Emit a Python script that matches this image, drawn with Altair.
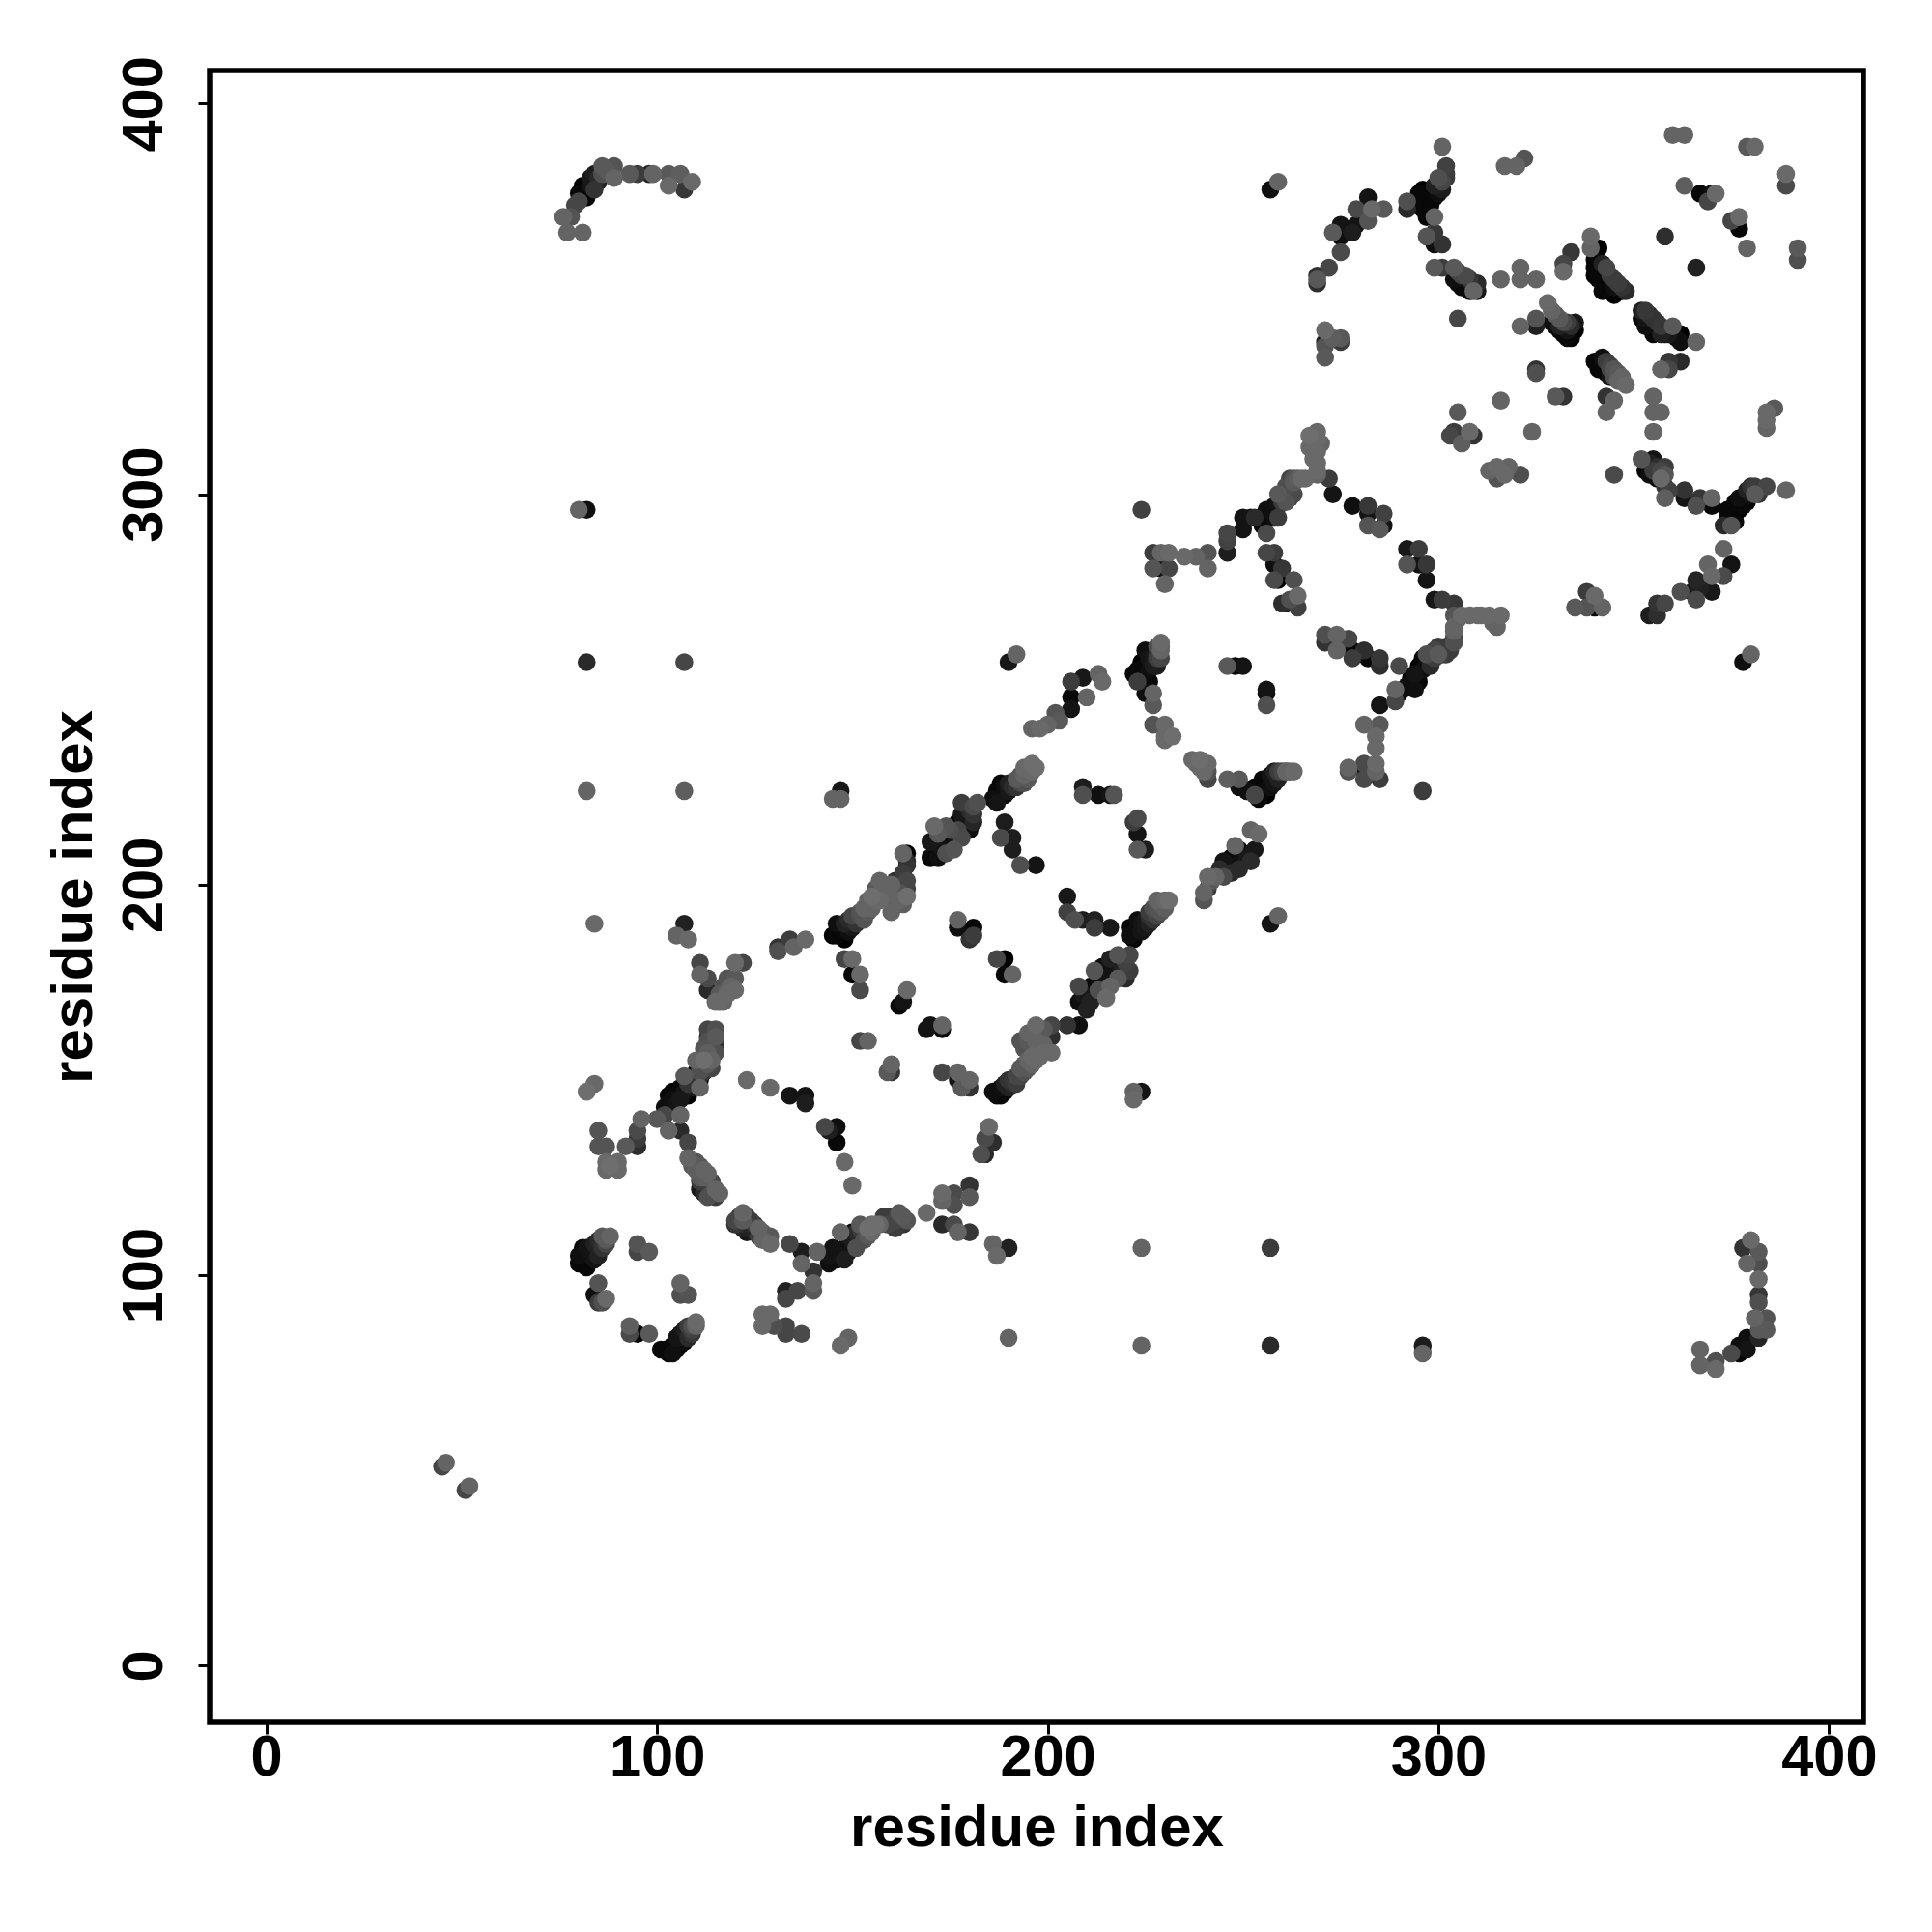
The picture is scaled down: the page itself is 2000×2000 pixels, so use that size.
import altair as alt
import pandas as pd

# each entry: residue x, residue y, grey level (0 black .. 112 mid grey)
top_left = [(76,371,100),(78,371,85),(77,367,100),(81,367,100),(80,375,70),(80,377,5),(81,379,0),(83,379,15),(84,382,25),(86,384,90),(86,382,80),(84,378,50),(89,384,85),(89,381,100),(93,382,90),(95,382,60),(98,382,30),(99,382,100),(103,382,90),(103,379,105),(106,382,95),(107,378,55),(109,380,105)]
isolated = [(45,51,70),(46,52,100),(51,45,70),(52,46,100),(80,296,100),(82,296,10),(82,257,40),(107,257,70),(82,224,100),(107,224,95),(190,257,20),(192,259,100),(224,107,100),(257,107,60),(224,82,100),(257,82,40),(296,82,25),(296,80,100),(257,378,10),(259,380,100),(257,190,15),(259,192,100),(296,224,60),(224,296,65),(378,257,10),(380,259,100),(84,190,105),(107,190,30),(105,187,100),(108,186,105),(190,84,100),(345,305,75),(305,345,70),(316,324,100),(324,316,100),(147,82,105),(149,84,100),(222,147,100),(222,145,105),(224,147,15),(147,224,20),(147,222,100),(145,222,100)]
left_wing = [(82,147,110),(84,149,105),(85,137,85),(85,133,85),(87,133,85),(87,129,105),(90,129,105),(87,127,105),(90,127,105),(88,128,110),(92,133,90),(95,133,45),(95,137,75),(95,135,60),(96,140,100),(100,140,90),(102,141,70),(106,141,100),(103,137,100),(106,137,40),(108,134,70),(108,130,100),(110,129,85),(112,127,100),(111,125,90),(114,124,70),(111,122,20),(112,121,40),(113,120,80),(115,122,100)]
left_diag = [(103,144,10),(104,147,0),(106,145,20),(107,151,90),(109,150,20),(111,150,5),(111,148,100),(108,149,50),(112,152,50),(110,155,100),(112,155,110),(111,152,80),(113,163,70),(115,163,80),(113,160,80),(115,159,50),(113,161,50),(115,161,90),(111,180,70),(111,177,100),(113,176,75),(113,173,40),(115,170,105),(116,172,90),(118,172,105),(120,173,105),(118,176,85),(120,176,90),(120,180,105),(122,180,70),(131,184,50),(131,183,80),(134,186,60),(135,184,100),(138,186,105)]
inner_arc_a = [(123,150,105),(129,148,105),(134,146,15),(138,146,15),(138,144,25),(144,137,25),(146,138,10),(143,138,70),(146,134,5),(148,129,105),(150,123,105)]
lower_ring = [(120,114,70),(122,116,100),(120,113,50),(122,112,30),(124,114,60),(126,112,100),(129,110,90),(123,111,20),(129,108,105),(134,108,70),(137,106,25),(137,103,100),(141,106,100),(140,101,50),(140,98,100),(140,96,90),(136,96,70),(133,96,30),(133,94,70),(144,103,10),(144,105,15),(145,107,15),(147,105,15),(150,109,25),(150,111,10),(147,111,100),(152,113,90),(151,107,80),(154,112,110),(155,111,105),(159,115,60),(159,113,70),(163,115,90),(163,113,50),(161,114,70),(169,116,105),(173,121,105),(173,119,100),(176,121,75),(176,118,80),(180,123,50),(180,120,90),(173,113,40),(176,113,75),(177,111,100),(180,111,55),(186,108,100),(187,105,105),(190,107,30),(160,154,100),(160,152,55),(159,152,90),(185,138,105),(184,135,75),(186,134,45),(184,131,40),(183,131,80)]
bottom_left = [(88,110,100),(86,110,90),(84,108,30),(85,107,25),(81,107,5),(80,105,10),(81,103,5),(83,105,10),(95,108,85),(95,106,70),(98,106,90),(85,98,85),(84,95,10),(85,93,60),(87,94,105),(86,93,80),(106,98,100),(106,95,80),(108,95,85),(93,87,95),(93,85,75),(95,85,5),(98,85,90),(102,81,5),(104,80,10),(106,82,5),(106,85,15),(108,84,40),(108,87,60),(109,87,80),(110,88,105),(101,81,5),(127,90,105),(129,90,105),(127,87,105),(130,87,80),(133,87,70),(133,85,70),(137,85,75)]
centre_low = [(187,146,5),(186,147,10),(190,148,30),(190,150,50),(192,151,70),(193,153,90),(195,155,100),(197,155,105),(197,157,70),(195,160,90),(193,160,85),(197,160,100),(198,161,90),(197,164,105),(201,164,70),(201,161,45),(201,157,105),(205,164,50),(208,164,10),(208,170,10),(211,170,30),(208,174,70),(211,174,5),(212,178,85),(216,174,100),(215,171,105),(216,178,5),(219,178,30),(216,181,30),(221,178,60),(221,182,70),(218,182,85),(221,187,10),(221,189,5),(223,189,10),(225,191,20),(226,193,60),(227,194,80),(228,196,100),(231,196,110),(230,196,105)]
centre_arcs = [(205,197,20),(205,193,65),(209,191,25),(212,191,30),(212,189,60),(216,189,20),(207,191,80),(177,191,100),(177,189,10),(181,189,5),(181,187,60),(180,186,50),(187,181,70),(189,181,0),(189,177,5),(191,177,100),(164,173,105),(163,170,15),(162,169,5),(169,163,15),(173,164,100),(170,164,15),(173,163,5),(152,160,70),(154,160,100),(173,152,70),(177,152,100),(177,150,15),(180,150,100),(180,148,50),(178,148,90),(209,225,25),(209,223,80),(213,223,10),(216,223,15),(217,223,85),(223,217,75),(223,213,15),(223,209,90),(225,209,25),(222,216,60)]
upper_chain = [(146,190,10),(148,186,0),(146,187,5),(148,190,30),(150,192,70),(153,194,100),(152,192,80),(155,197,110),(157,198,80),(160,193,100),(159,198,100),(157,201,100),(161,201,45),(164,201,70),(164,197,110),(164,205,50),(164,208,0),(163,208,100),(150,181,105),(152,177,105),(150,177,5),(152,173,75),(148,181,70),(170,207,5),(170,211,20),(174,208,80),(171,215,105),(174,215,85),(174,211,5),(178,212,75),(178,215,0),(181,216,35),(178,221,60),(182,221,80),(178,218,20),(187,221,15),(189,223,5),(188,226,5),(191,225,40),(192,227,90),(194,228,100),(196,231,110),(196,229,105),(189,216,25),(188,212,75),(191,212,25),(191,209,25),(193,205,80),(197,205,15),(196,240,100),(198,240,105),(200,241,100),(202,244,85),(203,242,90)]
mid_ring = [(206,252,60),(209,253,20),(213,254,100),(214,252,105),(210,248,100),(206,248,5),(206,245,15),(229,262,105),(229,260,100),(228,258,60),(225,260,10),(224,257,0),(222,254,5),(225,254,5),(227,256,25),(223,252,60),(225,249,10),(227,249,100),(227,246,90),(227,241,85),(230,241,105),(230,238,105),(232,238,110),(230,237,105),(238,231,105),(241,231,105),(241,227,70),(246,227,95),(249,227,90),(249,225,10),(254,225,5),(253,223,70),(254,222,5),(257,225,10),(255,227,5),(258,226,15),(258,229,30),(260,229,70),(263,229,105),(261,229,100),(246,256,90),(250,256,15),(248,256,5),(256,250,15),(256,249,10),(256,246,80),(252,214,100),(254,213,105),(248,210,100),(249,209,10),(253,209,20),(245,206,15),(249,206,5),(252,206,40),(249,204,40),(243,202,100),(245,202,75),(241,202,105),(240,198,100),(240,196,85)]
right_ring = [(271,264,80),(271,262,50),(274,264,100),(274,260,100),(277,263,70),(278,260,5),(278,258,60),(281,260,45),(282,258,5),(285,258,55),(285,256,45),(290,256,75),(285,246,15),(289,247,70),(291,250,10),(294,250,10),(289,250,100),(294,254,15),(296,258,5),(298,258,20),(295,256,0),(300,261,60),(302,261,50),(304,265,100),(304,263,70),(297,259,80),(281,241,100),(285,241,90),(284,238,105),(284,235,105),(277,230,100),(281,231,75),(284,231,105),(281,227,75),(285,227,60),(281,229,20),(284,229,100),(277,229,85)]
upper_ring = [(227,285,60),(227,281,85),(229,285,100),(231,285,105),(235,284,105),(238,284,100),(241,285,85),(241,281,100),(229,281,10),(231,281,70),(230,277,100),(246,285,25),(246,290,70),(246,288,65),(250,294,15),(250,291,15),(253,294,40),(256,294,5),(258,297,10),(256,290,75),(260,300,30),(259,300,90),(262,301,65),(262,304,70),(265,304,105),(269,305,100),(269,308,105),(269,311,105),(267,315,110),(269,316,105),(267,312,105),(272,304,60),(273,300,15),(278,297,10),(282,297,55),(282,292,85),(282,295,15),(286,295,65),(286,292,15),(285,291,90),(292,286,20),(292,282,85),(295,286,60),(295,282,15),(297,282,55),(297,278,15),(299,273,20),(301,273,60),(304,272,55),(304,269,85),(308,269,105),(313,269,105),(316,269,105),(315,266,100),(304,266,100),(304,263,60),(256,285,70),(258,285,60),(258,282,10),(260,281,55),(259,278,0),(258,278,75),(263,278,80),(264,274,105),(264,271,65),(260,272,45),(261,272,20),(262,273,80)]
far_mid = [(305,321,90),(308,316,105),(304,316,60),(303,315,70),(306,313,95),(309,315,50),(315,307,105),(313,306,100),(315,304,85),(318,307,100),(321,305,80),(317,305,105),(384,317,100),(384,321,105),(386,322,90),(384,319,105),(352,309,85),(353,306,5),(354,308,25),(355,306,60),(357,304,105),(358,299,95),(358,302,50),(363,301,50),(363,299,15),(366,297,80),(367,299,55),(370,297,5),(370,299,100),(373,292,40),(375,292,85),(375,296,0),(376,298,5),(378,297,5),(379,301,30),(381,302,60),(384,302,70),(389,301,100),(381,300,90),(373,286,100),(375,282,15),(373,279,75),(369,282,100),(370,279,105),(366,278,35),(365,275,20),(370,275,20),(362,275,80),(366,273,75),(367,276,30),(358,272,70),(356,272,50),(356,269,45),(354,269,25),(335,271,90),(338,275,60),(340,274,105),(340,271,5),(342,271,100),(338,271,85)]
top_mid = [(301,389,100),(302,384,65),(302,381,60),(300,381,80),(299,379,30),(296,378,0),(297,376,0),(295,375,5),(292,375,80),(292,373,40),(300,377,10),(286,373,90),(283,373,105),(282,376,15),(282,370,85),(279,373,75),(278,367,25),(275,369,15),(279,369,15),(273,367,90),(275,366,10),(275,362,75),(272,358,70),(269,356,45),(269,354,45),(269,355,90),(297,371,5),(299,371,100),(299,367,55),(297,366,85),(299,364,10),(301,364,50),(299,358,90),(301,358,60),(304,358,90),(306,356,65),(304,355,10),(309,354,25),(307,353,5),(309,352,100),(317,384,100),(320,384,100),(322,386,85),(316,355,100),(321,358,100),(321,355,100),(325,355,100),(271,342,105),(271,335,90),(271,339,20),(273,340,95),(275,340,90),(275,339,60),(271,338,85),(325,332,50),(325,331,80)]
top_right = [(360,392,100),(363,392,100),(379,389,90),(381,389,105),(389,382,105),(389,379,75),(363,379,95),(367,377,5),(369,375,70),(370,377,10),(371,377,105),(375,370,70),(377,371,105),(377,368,5),(379,363,100),(358,366,45),(366,358,30),(392,363,90),(392,360,80),(339,366,105),(339,363,100),(341,363,0),(334,362,55),(332,359,70),(332,357,105),(340,358,5),(343,358,70),(345,355,60),(347,353,50),(341,355,5),(344,352,0),(347,352,0),(321,343,100),(325,345,85),(325,343,30),(328,349,105),(330,346,90),(333,344,60),(330,343,5),(332,341,0),(335,342,0),(334,340,0),(353,347,55),(352,345,5),(355,345,50),(357,343,55),(355,341,5),(358,341,5),(362,341,0),(362,339,10),(366,339,100),(362,334,40),(359,334,55),(357,332,100),(359,332,70),(342,335,10),(340,334,5),(344,333,65),(346,331,90),(348,328,105),(341,332,5),(343,325,50),(345,324,100),(343,321,100),(330,325,90),(332,325,50),(355,325,100),(355,321,100),(357,321,100),(355,316,100)]
bottom_right = [(380,109,105),(378,107,50),(382,106,90),(379,103,100),(382,103,80),(382,99,105),(382,95,55),(382,93,80),(381,89,100),(384,89,85),(384,86,90),(382,86,90),(382,84,35),(379,84,10),(377,82,10),(379,81,15),(377,80,5),(375,80,75),(367,81,100),(367,77,100),(371,78,80),(371,76,105)]
# extra points read from the dense, overlapping stretches of the chains
dense_low = [(105,146,5),(107,147,15),(108,146,0),(106,148,5),(109,148,25),(110,151,15),(110,152,5),(111,153,60),(112,154,75),(113,154,90),(114,155,100),(113,157,95),(112,158,85),(114,153,70),(105,144,15),(104,145,10),(102,143,10),(103,146,5),(113,159,70),(114,162,60),(115,157,80),(116,170,105),(117,170,100),(118,173,95),(119,174,100),(117,174,80),(109,128,90),(110,127,95),(111,128,90),(112,125,95),(113,126,100),(113,123,40),(114,122,30),(115,120,60),(112,123,25),(114,121,75),(116,121,100),(111,124,60),(121,115,60),(121,113,40),(123,115,50),(123,113,35),(125,113,55),(125,111,35),(126,110,60),(127,111,90),(128,110,80),(127,109,100),(122,114,90),(146,104,10),(146,106,5),(148,107,10),(149,106,15),(148,104,25),(149,109,15),(151,109,20),(152,110,30),(153,110,60),(153,109,80),(152,112,60),(154,110,90),(155,113,105),(156,113,110),(157,113,100),(151,111,40),(158,115,60),(160,115,50),(161,112,60),(162,116,90),(164,114,85),(82,105,5),(82,107,15),(83,106,10),(84,106,15),(85,109,40),(87,108,70),(87,109,90),(84,104,15),(86,107,50),(85,105,30),(80,103,5),(82,102,5),(103,80,5),(105,81,5),(107,83,10),(105,84,15),(107,86,25),(109,85,55),(109,86,65),(110,87,100),(104,82,5)]
dense_mid = [(145,187,0),(147,188,5),(149,188,10),(149,191,40),(151,190,50),(150,189,20),(152,193,85),(154,193,90),(153,191,85),(155,194,100),(156,196,105),(154,196,100),(157,196,105),(158,197,100),(156,199,90),(158,200,95),(160,196,90),(162,198,85),(162,196,100),(160,200,100),(164,199,65),(163,195,95),(163,203,60),(164,206,40),(172,207,10),(173,209,15),(172,211,10),(176,211,5),(176,213,15),(175,214,80),(177,214,70),(177,216,5),(179,214,5),(180,214,10),(179,218,10),(180,219,40),(181,218,50),(181,220,75),(176,209,85),(172,213,90),(186,222,10),(188,223,0),(187,224,5),(190,224,20),(190,226,30),(192,225,50),(193,226,70),(193,228,85),(194,226,80),(195,227,90),(195,229,100),(196,230,105),(189,225,10),(194,230,105),(197,230,110),(188,146,5),(188,148,10),(189,147,0),(189,149,30),(191,149,40),(191,150,55),(192,149,60),(193,151,70),(194,152,80),(194,154,90),(195,153,90),(196,154,100),(196,156,105),(198,156,100),(196,158,85),(198,158,95),(199,159,100),(199,157,105),(194,158,85),(196,161,85),(195,162,100),(199,163,90),(209,172,20),(210,172,5),(210,168,30),(212,172,10),(213,176,10),(214,176,5),(213,173,80),(215,176,15),(216,176,5),(214,179,10),(218,180,5),(219,180,20),(218,176,90),(220,180,65),(220,176,40),(217,179,15),(222,186,5),(222,188,5),(224,188,15),(224,190,15),(225,189,20),(226,190,30),(226,192,45),(227,191,50),(228,192,70),(228,194,85),(229,195,95),(229,193,85),(230,194,95),(223,191,10)]
dense_high = [(224,255,5),(225,256,5),(226,255,10),(226,258,15),(227,258,20),(228,259,40),(228,256,25),(229,258,70),(229,261,95),(228,261,80),(223,255,5),(224,253,5),(226,252,5),(251,224,10),(252,224,5),(253,225,5),(255,224,5),(256,226,5),(256,223,0),(257,228,15),(259,227,30),(259,229,60),(261,229,80),(262,229,95),(290,249,5),(292,251,10),(293,251,5),(293,253,5),(295,252,5),(296,255,10),(297,256,10),(294,252,5),(298,256,40),(299,258,60),(299,260,70),(301,259,55),(302,259,60),(303,260,60),(304,262,80),(300,259,90),(252,294,15),(254,294,5),(255,292,5),(256,296,10),(257,295,5),(258,294,10),(259,297,15),(259,294,60),(260,298,60),(261,298,85),(262,299,70),(263,303,90),(264,304,95),(261,302,80),(263,300,75),(241,199,60),(242,201,90),(244,204,40),(246,205,10),(247,207,5),(248,205,10),(250,208,5),(251,207,20),(247,203,40),(237,232,105),(239,232,110),(240,229,105),(239,230,105),(241,229,85),(306,269,105),(310,269,105),(311,269,105),(314,267,100),(304,265,85),(305,268,90),(268,313,105),(269,314,105),(270,313,100),(268,309,105),(269,306,105),(266,304,105),(263,304,85)]
dense_top = [(296,376,0),(298,378,0),(299,376,5),(300,379,15),(301,378,25),(301,380,70),(302,382,60),(298,374,5),(296,373,5),(295,377,5),(294,374,5),(340,360,5),(340,356,5),(342,357,5),(343,355,5),(344,354,5),(345,353,10),(346,354,60),(342,359,30),(344,356,60),(340,362,0),(342,352,5),(345,351,0),(348,352,40),(329,347,100),(331,345,90),(331,343,30),(332,344,75),(333,342,15),(334,343,40),(333,340,5),(335,344,20),(329,344,10),(331,342,5),(353,345,15),(354,343,5),(354,346,45),(356,344,50),(356,342,5),(357,341,30),(352,347,30),(353,343,10),(359,341,20),(360,341,10),(361,340,5),(360,343,90),(342,333,5),(343,331,5),(344,330,15),(345,330,80),(346,329,100),(347,330,100),(343,334,60),(344,332,70),(345,332,85),(353,308,5),(354,305,10),(355,309,15),(356,307,45),(356,304,10),(357,306,70),(358,305,85),(359,301,65),(358,307,60),(374,294,5),(376,295,0),(377,296,0),(376,293,5),(378,299,5),(379,298,5),(377,299,10),(380,300,20),(380,302,50),(382,300,55),(374,296,5),(305,357,70),(307,356,75),(308,355,55),(307,355,10),(306,353,5),(309,353,5),(310,352,20),(308,352,5),(305,354,5),(310,354,40),(79,374,70),(82,378,5),(82,376,5),(85,380,25),(87,383,90),(88,383,85),(85,381,40),(83,381,20),(81,376,5)]

groups = [top_left, isolated, left_wing, left_diag, inner_arc_a, lower_ring, bottom_left, centre_low, centre_arcs,
          upper_chain, mid_ring, right_ring, upper_ring, far_mid, top_mid, top_right, bottom_right,
          dense_low, dense_mid, dense_high, dense_top]
rows = [r for g in groups for r in g]
df = pd.DataFrame(rows, columns=["x", "y", "g"]).sort_values("g", kind="stable")

FONT = "Liberation Sans"
ticks = [0, 100, 200, 300, 400]
xaxis = alt.Axis(values=ticks, title="residue index", grid=False, domain=False, tickColor="black", tickWidth=3,
                 tickSize=12, labelFont=FONT, labelFontWeight="bold", labelFontSize=59.5, labelColor="black",
                 labelPadding=-5, labelFlush=False, labelOverlap=False, titleFont=FONT, titleFontWeight="bold",
                 titleFontSize=60, titleColor="black", titlePadding=15)
yaxis = alt.Axis(values=ticks, title="residue index", grid=False, domain=False, tickColor="black", tickWidth=3,
                 tickSize=12, labelFont=FONT, labelFontWeight="bold", labelFontSize=59.5, labelColor="black",
                 labelAngle=270, labelAlign="center", labelBaseline="bottom", labelPadding=26, labelFlush=False,
                 labelOverlap=False, titleFont=FONT, titleFontWeight="bold", titleFontSize=60, titleColor="black",
                 titlePadding=12)

chart = (
    alt.Chart(df)
    .mark_circle(size=345, opacity=1)
    .encode(
        x=alt.X("x:Q", scale=alt.Scale(domain=[-14.5, 408.8], nice=False, zero=False), axis=xaxis),
        y=alt.Y("y:Q", scale=alt.Scale(domain=[-14.5, 408.5], nice=False, zero=False), axis=yaxis),
        color=alt.Color("g:Q", scale=alt.Scale(domain=[0, 112], range=["#000000", "#707070"]), legend=None),
    )
    .properties(width=1712, height=1710, autosize=alt.AutoSizeParams(type="none"),
                padding={"left": 209, "top": 65, "right": 60, "bottom": 200})
    .configure_view(stroke="black", strokeWidth=5.5, fill="white")
)
chart.save("out.html", embed_options={"renderer": "svg", "actions": False})
